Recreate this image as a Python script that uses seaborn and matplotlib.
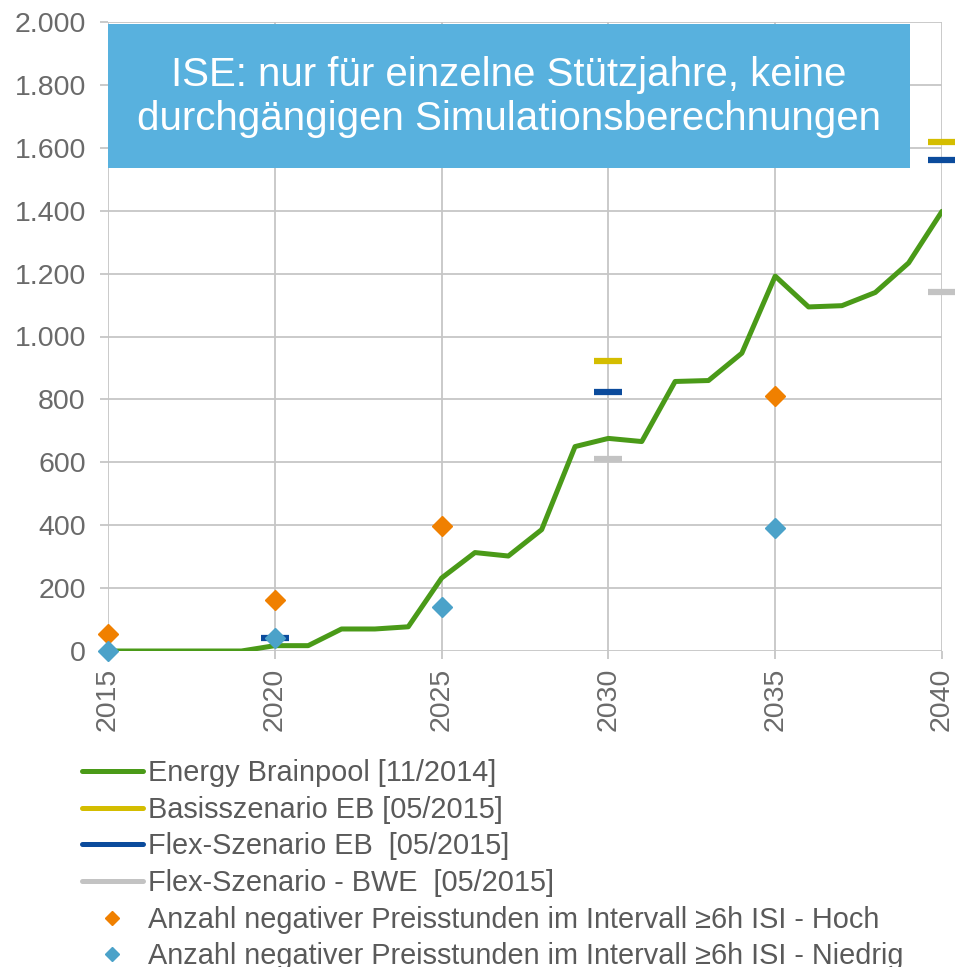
import numpy as np
import pandas as pd
import matplotlib
matplotlib.use('Agg')
import matplotlib.pyplot as plt
import seaborn as sns
from matplotlib.lines import Line2D
from matplotlib.patches import Rectangle
from matplotlib.ticker import FuncFormatter

# Energy Brainpool [11/2014], yearly values
years = list(range(2015, 2041))
brainpool = [0, 0, 0, 0, 0, 17, 17, 70, 70, 77, 232, 313, 302, 386, 650, 676, 666,
             857, 860, 947, 1192, 1094, 1098, 1140, 1234, 1398]

# scenarios, only single years
basis_years = [2030, 2040]
basis_vals = [922, 1618]
flex_eb_years = [2020, 2030, 2040]
flex_eb_vals = [40, 822, 1561]
flex_bwe_years = [2030, 2040]
flex_bwe_vals = [609, 1143]

# ISI negative price hours
isi_years = [2015, 2020, 2025, 2035]
isi_hoch = [53, 162, 398, 811]
isi_niedrig = [0, 40, 141, 392]

labels = ['Energy Brainpool [11/2014]', 'Basisszenario EB [05/2015]',
          'Flex-Szenario EB  [05/2015]', 'Flex-Szenario - BWE  [05/2015]',
          'Anzahl negativer Preisstunden im Intervall \u22656h ISI - Hoch',
          'Anzahl negativer Preisstunden im Intervall \u22656h ISI - Niedrig']

c_green = '#4a9a18'
c_yellow = '#d4bd00'
c_blue = '#0b4b9c'
c_gray = '#c3c3c3'
c_orange = '#f08000'
c_lblue = '#4ba2c9'
c_text = '#6a6a6a'

sns.set_style('white')
plt.rcParams['font.family'] = ['Liberation Sans', 'DejaVu Sans']

fig = plt.figure(figsize=(9.55, 9.67), dpi=100)
ax = fig.add_axes([108/955, 1-651/967, (942-108)/955, (651-22)/967])

df = pd.DataFrame({'year': years, 'value': brainpool})
sns.lineplot(data=df, x='year', y='value', ax=ax, color=c_green, lw=3.6, zorder=3)

for xs, ys, c in [(basis_years, basis_vals, c_yellow), (flex_eb_years, flex_eb_vals, c_blue),
                  (flex_bwe_years, flex_bwe_vals, c_gray)]:
    ax.plot(xs, ys, ls='none', marker='_', ms=20, mew=4.5, color=c, clip_on=False, zorder=4)

ax.plot(isi_years, isi_hoch, ls='none', marker='D', ms=10.5, color=c_orange, clip_on=False, zorder=5)
ax.plot(isi_years, isi_niedrig, ls='none', marker='D', ms=10.5, color=c_lblue, clip_on=False, zorder=5)

ax.set_xlim(2015, 2040)
ax.set_ylim(0, 2000)
ax.set_xticks(range(2015, 2041, 5))
ax.set_yticks(range(0, 2001, 200))
ax.yaxis.set_major_formatter(FuncFormatter(lambda v, p: f'{int(v):,}'.replace(',', '.')))
ax.grid(True, color='#c6c6c6', lw=1.3)
for s in ax.spines.values():
    s.set_visible(False)
ax.tick_params(axis='y', length=6, width=1.3, color='#c6c6c6', pad=10, labelsize=20.5, labelcolor=c_text, left=True)
ax.tick_params(axis='x', length=6, width=1.3, color='#c6c6c6', pad=6, labelsize=20.5, labelcolor=c_text,
               labelrotation=90, bottom=True)
ax.set_xlabel('')
ax.set_ylabel('')

# note box
fig.patches.append(Rectangle((108/955, 1-168/967), (910-108)/955, (168-24)/967,
                             transform=fig.transFigure, facecolor='#58b1de', edgecolor='none', zorder=5))
fig.text(509/955, 1-97/967, 'ISE: nur für einzelne Stützjahre, keine\ndurchgängigen Simulationsberechnungen',
         ha='center', va='center', color='white', fontsize=29, linespacing=1.23, zorder=6)

handles = [Line2D([], [], color=c_green, lw=3.6), Line2D([], [], color=c_yellow, lw=3.6),
           Line2D([], [], color=c_blue, lw=3.6), Line2D([], [], color=c_gray, lw=3.6),
           Line2D([], [], ls='none', marker='D', ms=7, color=c_orange),
           Line2D([], [], ls='none', marker='D', ms=7, color=c_lblue)]
leg = fig.legend(handles, labels, loc='upper left', bbox_to_anchor=(82/955, 1-759/967), frameon=False,
                 fontsize=20.8, handlelength=2.1, handletextpad=0.2, labelspacing=0.3,
                 borderpad=0, borderaxespad=0)
for t in leg.get_texts():
    t.set_color('#5a5a5a')

fig.savefig('out.png', dpi=100)
